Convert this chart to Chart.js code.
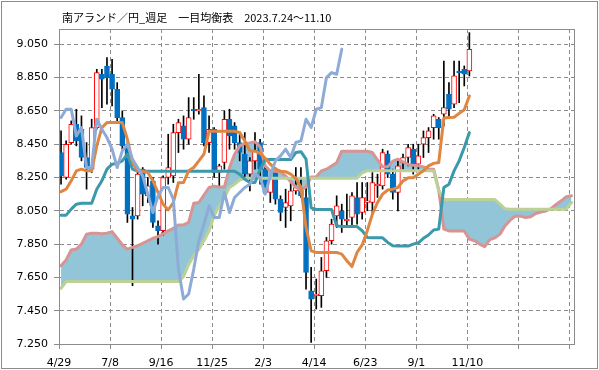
<!DOCTYPE html>
<html>
<head>
<meta charset="utf-8">
<script src="https://cdn.jsdelivr.net/npm/chart.js@4.4.0/dist/chart.umd.min.js"></script>
<style>
  html, body { margin: 0; padding: 0; background: #fff; }
  #wrap { width: 599px; height: 370px; }
</style>
</head>
<body>
<div id="wrap"><canvas id="ichimoku" width="599" height="370"></canvas></div>
<script>
const titleText = "南アランド／円_週足　一目均衡表　2023.7.24～11.10"

// weekly axis labels, one every 10 weeks (future weeks have no label)
const xTickLabels = ["4/29", "7/8", "9/16", "11/25", "2/3", "4/14", "6/23", "9/1", "11/10", "", ""]
const yTickValues = [7.25, 7.45, 7.65, 7.85, 8.05, 8.25, 8.45, 8.65, 8.85, 9.05]

// weekly candles (81 weeks)
const opens = [8.40, 8.25, 8.46, 8.57, 8.54, 8.37, 8.30, 8.55, 8.87, 8.92,
  8.87, 8.78, 8.61, 8.45, 8.02, 8.02, 8.30, 8.14, 8.23, 7.96,
  7.93, 8.25, 8.26, 8.52, 8.56, 8.48, 8.66, 8.65, 8.67, 8.46,
  8.54, 8.28, 8.34, 8.60, 8.56, 8.46, 8.39, 8.27, 8.35, 8.46,
  8.30, 8.16, 8.30, 8.12, 8.07, 8.08, 8.17, 8.19, 8.13, 7.57,
  7.54, 7.54, 7.69, 7.87, 8.02, 8.05, 7.99, 8.01, 8.13, 8.04,
  8.10, 8.10, 8.20, 8.20, 8.39, 8.27, 8.16, 8.34, 8.37, 8.42,
  8.33, 8.45, 8.49, 8.55, 8.60, 8.63, 8.75, 8.69, 8.89, 8.90,
  8.89]
const highs = [8.53, 8.47, 8.59, 8.66, 8.62, 8.46, 8.60, 8.90, 8.90, 8.97,
  8.96, 8.82, 8.65, 8.46, 8.07, 8.30, 8.31, 8.25, 8.25, 7.99,
  8.26, 8.51, 8.57, 8.60, 8.62, 8.73, 8.73, 8.87, 8.74, 8.62,
  8.55, 8.33, 8.65, 8.66, 8.58, 8.52, 8.52, 8.37, 8.52, 8.48,
  8.32, 8.26, 8.31, 8.14, 8.18, 8.22, 8.31, 8.31, 8.19, 7.71,
  7.64, 7.77, 7.89, 8.00, 8.14, 8.09, 8.15, 8.16, 8.22, 8.22,
  8.22, 8.28, 8.27, 8.42, 8.41, 8.30, 8.36, 8.39, 8.45, 8.45,
  8.45, 8.53, 8.55, 8.63, 8.61, 8.95, 8.82, 8.95, 8.95, 8.92,
  9.12]
const lows = [8.21, 8.24, 8.45, 8.44, 8.35, 8.18, 8.28, 8.54, 8.67, 8.69,
  8.68, 8.58, 8.42, 7.98, 7.60, 8.00, 8.08, 8.10, 7.95, 7.85,
  7.90, 8.21, 8.22, 8.40, 8.42, 8.45, 8.60, 8.63, 8.44, 8.40,
  8.25, 8.20, 8.30, 8.42, 8.42, 8.35, 8.24, 8.17, 8.30, 8.21,
  8.15, 8.10, 8.09, 7.99, 7.95, 7.99, 8.15, 8.13, 7.58, 7.26,
  7.46, 7.47, 7.65, 7.85, 7.95, 7.92, 7.96, 7.95, 7.97, 8.00,
  8.05, 8.03, 8.13, 8.18, 8.25, 8.12, 8.05, 8.30, 8.32, 8.27,
  8.30, 8.37, 8.40, 8.48, 8.48, 8.56, 8.62, 8.67, 8.70, 8.80,
  8.86]
const closes = [8.26, 8.45, 8.57, 8.47, 8.37, 8.31, 8.55, 8.88, 8.84, 8.85,
  8.78, 8.61, 8.44, 8.03, 8.00, 8.27, 8.15, 8.20, 7.98, 7.93,
  8.25, 8.31, 8.52, 8.58, 8.48, 8.61, 8.65, 8.66, 8.46, 8.54,
  8.28, 8.32, 8.60, 8.50, 8.46, 8.40, 8.27, 8.35, 8.41, 8.30,
  8.16, 8.24, 8.12, 8.04, 8.10, 8.17, 8.19, 8.14, 7.68, 7.52,
  7.55, 7.69, 7.87, 7.97, 8.08, 8.00, 8.00, 8.14, 8.03, 8.13,
  8.11, 8.22, 8.21, 8.40, 8.27, 8.16, 8.32, 8.37, 8.43, 8.32,
  8.38, 8.49, 8.53, 8.62, 8.55, 8.67, 8.66, 8.86, 8.88, 8.87,
  9.02]

// conversion line (tenkan) and base line (kijun)
const tenkan = [8.165, 8.18, 8.23, 8.29, 8.30, 8.29, 8.29, 8.44, 8.55, 8.58,
  8.58, 8.58, 8.58, 8.48, 8.34, 8.29, 8.288, 8.28, 8.23, 8.16,
  8.09, 8.055, 8.10, 8.218, 8.22, 8.29, 8.31, 8.35, 8.39, 8.528,
  8.528, 8.528, 8.528, 8.528, 8.528, 8.52, 8.47, 8.41, 8.408, 8.395,
  8.365, 8.33, 8.30, 8.288, 8.285, 8.27, 8.245, 8.19, 7.95, 7.81,
  7.80, 7.80, 7.80, 7.80, 7.80, 7.79, 7.75, 7.715, 7.80, 7.845,
  7.93, 8.03, 8.10, 8.15, 8.175, 8.18, 8.19, 8.23, 8.248, 8.248,
  8.27, 8.29, 8.32, 8.335, 8.34, 8.607, 8.61, 8.612, 8.635, 8.657,
  8.74]
const kijun = [8.024, 8.024, 8.06, 8.09, 8.095, 8.095, 8.095, 8.18, 8.23, 8.30,
  8.33, 8.335, 8.35, 8.39, 8.30, 8.288, 8.288, 8.288, 8.288, 8.288,
  8.288, 8.288, 8.288, 8.288, 8.288, 8.288, 8.288, 8.288, 8.288, 8.288,
  8.288, 8.288, 8.288, 8.288, 8.288, 8.27, 8.24, 8.22, 8.22, 8.30,
  8.358, 8.358, 8.358, 8.358, 8.358, 8.358, 8.40, 8.405, 8.36, 8.068,
  8.058, 8.058, 8.058, 8.058, 7.96, 7.955, 7.955, 7.955, 7.955, 7.93,
  7.89, 7.888, 7.888, 7.888, 7.86, 7.84, 7.838, 7.838, 7.838, 7.85,
  7.858, 7.885, 7.905, 7.935, 7.94, 8.19, 8.21, 8.29, 8.35, 8.43,
  8.52]

// lagging span (chikou), plotted from the first week
const lagging = [8.61, 8.66, 8.66, 8.50, 8.55, 8.31, 8.31, 8.60, 8.54, 8.49,
  8.42, 8.31, 8.41, 8.45, 8.36, 8.31, 8.26, 8.15, 8.04, 8.14,
  8.19, 8.19, 8.12, 7.70, 7.52, 7.55, 7.70, 7.87, 7.97, 8.08,
  8.01, 8.01, 8.16, 8.04, 8.13, 8.16, 8.19, 8.21, 8.27, 8.25,
  8.15, 8.26, 8.35, 8.38, 8.42, 8.37, 8.46, 8.47, 8.60, 8.55,
  8.66, 8.67, 8.85, 8.88, 8.87, 9.02]

// leading spans (senkou A / B), 101 weeks incl. the future part
const senkouA = [7.72, 7.755, 7.815, 7.82, 7.85, 7.91, 7.915, 7.915, 7.912, 7.916,
  7.925, 7.885, 7.846, 7.82, 7.83, 7.84, 7.855, 7.87, 7.885, 7.895,
  7.91, 7.93, 7.945, 7.965, 7.966, 7.98, 8.095, 8.10, 8.145, 8.19,
  8.198, 8.193, 8.193, 8.31, 8.39, 8.44, 8.455, 8.458, 8.465, 8.435,
  8.32, 8.289, 8.288, 8.284, 8.259, 8.224, 8.194, 8.172, 8.194, 8.253,
  8.254, 8.289, 8.30, 8.319, 8.339, 8.408, 8.408, 8.408, 8.408, 8.408,
  8.408, 8.40, 8.355, 8.315, 8.314, 8.348, 8.36, 8.344, 8.329, 8.323,
  8.32, 8.314, 8.30, 8.30, 8.175, 7.94, 7.929, 7.929, 7.929, 7.929,
  7.88, 7.87, 7.85, 7.835, 7.877, 7.888, 7.91, 7.96, 7.994, 8.019,
  8.018, 8.01, 8.014, 8.034, 8.043, 8.049, 8.064, 8.088, 8.11, 8.135,
  8.14]
const senkouB = [7.585, 7.625, 7.625, 7.625, 7.625, 7.625, 7.625, 7.625, 7.625, 7.625,
  7.625, 7.625, 7.625, 7.625, 7.625, 7.625, 7.625, 7.625, 7.625, 7.625,
  7.625, 7.625, 7.625, 7.625, 7.655, 7.728, 7.78, 7.82, 7.87, 7.93,
  8.02, 8.08, 8.13, 8.19, 8.21, 8.235, 8.245, 8.245, 8.245, 8.245,
  8.245, 8.245, 8.245, 8.245, 8.245, 8.245, 8.245, 8.245, 8.245, 8.245,
  8.245, 8.245, 8.245, 8.245, 8.245, 8.245, 8.245, 8.245, 8.245, 8.278,
  8.29, 8.29, 8.29, 8.29, 8.29, 8.29, 8.29, 8.29, 8.29, 8.29,
  8.29, 8.29, 8.29, 8.29, 8.17, 8.118, 8.118, 8.118, 8.118, 8.118,
  8.118, 8.118, 8.118, 8.118, 8.118, 8.118, 8.09, 8.062, 8.06, 8.06,
  8.06, 8.06, 8.06, 8.06, 8.06, 8.06, 8.06, 8.06, 8.06, 8.06,
  8.10]

const GRID = "#8c8c8c"
const toPoints = (arr) => arr.map((v, i) => ({ x: i, y: v }))

const isUp = opens.map((o, i) => closes[i] >= o)
const bodyFill = isUp.map((up) => (up ? "#ffffff" : "#0070c0"))
const bodyLine = isUp.map((up) => (up ? "#ff0000" : "#0070c0"))

const lineStyle = (color) => ({
  type: "line",
  borderColor: color,
  borderWidth: 3,
  pointRadius: 0,
  tension: 0,
  fill: false,
  borderJoinStyle: "round",
  borderCapStyle: "round",
})

// frame around plot area + outer chart border + title text
const chartFrame = {
  id: "chartFrame",
  afterDatasetsDraw(chart) {
    const { ctx, chartArea: a } = chart
    ctx.save()
    ctx.strokeStyle = GRID
    ctx.lineWidth = 1
    ctx.strokeRect(Math.round(a.left) + 0.5, Math.round(a.top) + 0.5,
      Math.round(a.right - a.left), Math.round(a.bottom - a.top))
    ctx.restore()
  },
  afterDraw(chart) {
    const ctx = chart.ctx
    ctx.save()
    ctx.strokeStyle = GRID
    ctx.lineWidth = 1
    ctx.strokeRect(1.5, 1.5, chart.width - 3, chart.height - 3)
    ctx.fillStyle = "#000"
    ctx.font = '11px "Noto Sans CJK JP"'
    ctx.textBaseline = "middle"
    ctx.fillText(titleText, 62, 18)
    ctx.restore()
  },
}

Chart.defaults.font.family = '"DejaVu Sans", sans-serif'
Chart.defaults.font.size = 11
Chart.defaults.color = "#000"

new Chart(document.getElementById("ichimoku"), {
  type: "line",
  data: {
    datasets: [
      {
        // cloud fill between the two leading spans
        ...lineStyle("rgba(0,0,0,0)"),
        data: toPoints(senkouA),
        borderWidth: 0,
        fill: { target: 1, above: "#92c5d7", below: "#92c5d7" },
        order: 20,
      },
      { ...lineStyle("#bdd197"), data: toPoints(senkouB), order: 4 },
      { ...lineStyle("#d69494"), data: toPoints(senkouA), order: 5 },
      {
        type: "bar",
        data: lows.map((l, i) => ({ x: i, y: [l, highs[i]] })),
        backgroundColor: "#000000",
        borderWidth: 0,
        barThickness: 1,
        grouped: false,
        order: 11,
      },
      {
        type: "bar",
        data: opens.map((o, i) => ({ x: i, y: [o, closes[i]] })),
        backgroundColor: bodyFill,
        borderColor: bodyLine,
        borderWidth: 1,
        borderSkipped: false,
        barThickness: 5,
        grouped: false,
        order: 10,
      },
      { ...lineStyle("#3b99ab"), data: toPoints(kijun), order: 3 },
      { ...lineStyle("#de8642"), data: toPoints(tenkan), order: 2 },
      { ...lineStyle("#8eabd6"), data: toPoints(lagging), order: 1 },
    ],
  },
  options: {
    responsive: false,
    animation: false,
    events: [],
    layout: { padding: { top: 29, right: 25, left: 0, bottom: 0 } },
    plugins: {
      legend: { display: false },
      tooltip: { enabled: false },
      title: { display: false },
    },
    scales: {
      x: {
        type: "linear",
        min: -0.4,
        max: 100.5,
        offset: false,
        afterBuildTicks: (scale) => {
          scale.ticks = xTickLabels.map((_, k) => ({ value: k * 10 - 0.4 }))
        },
        afterFit: (scale) => {
          scale.height = 26
        },
        ticks: {
          autoSkip: false,
          maxRotation: 0,
          padding: 8,
          callback: (value, index) => xTickLabels[index],
        },
        grid: { color: GRID, tickColor: GRID, tickLength: 5, offset: false },
        border: { color: GRID, dash: [4, 3] },
      },
      y: {
        type: "linear",
        min: 7.25,
        max: 9.142,
        afterBuildTicks: (scale) => {
          scale.ticks = yTickValues.map((v) => ({ value: v }))
        },
        afterFit: (scale) => {
          scale.width = 59
        },
        ticks: {
          padding: 6,
          callback: (value) => Number(value).toFixed(3),
        },
        grid: { color: GRID, tickColor: GRID, tickLength: 5 },
        border: { color: GRID, dash: [4, 3] },
      },
    },
  },
  plugins: [chartFrame],
})
</script>
</body>
</html>
